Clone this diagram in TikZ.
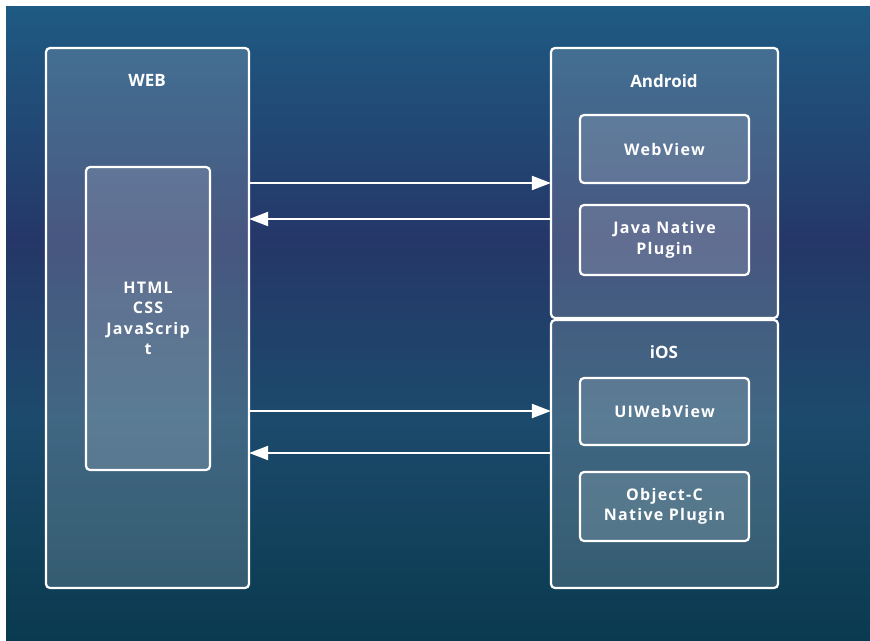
\documentclass[tikz,border=0pt]{standalone}
\usepackage{fontspec}
\setmainfont{Open Sans}
\newfontfamily\labfont{Open Sans}[LetterSpace=8]
\usetikzlibrary{arrows.meta}
\definecolor{bgtop}{HTML}{1E5A82}
\definecolor{bgmid}{HTML}{253768}
\definecolor{bgteal}{HTML}{1C4A6C}
\definecolor{bgbot}{HTML}{0A3A4F}
\pgfdeclareverticalshading{bgshade}{100bp}{color(0bp)=(bgbot); color(25bp)=(bgbot); color(42.5bp)=(bgteal); color(56.5bp)=(bgmid); color(75bp)=(bgtop); color(100bp)=(bgtop)}
\tikzset{
  panel/.style={draw=white, line width=2.2pt, rounded corners=4pt, fill=white, fill opacity=0.16, text opacity=1, inner sep=0pt},
  inbox/.style={draw=white, line width=2.2pt, rounded corners=4pt, fill=white, fill opacity=0.14, text opacity=1, text=white, align=center, inner sep=0pt, font=\labfont\bfseries\fontsize{16}{20.5}\selectfont},
  title/.style={text=white, font=\bfseries\fontsize{17}{20}\selectfont},
  arr/.style={draw=white, line width=2pt, -{Triangle[length=19pt,width=14pt]}, shorten >=-1pt}
}
\begin{document}
\begin{tikzpicture}[x=1pt,y=-1pt]
\useasboundingbox (0,0) rectangle (870,640);
\fill[white] (0,0) rectangle (870,640);
\shade[shading=bgshade] (6,6) rectangle (870,640);
% panels
\node[panel, minimum width=203pt, minimum height=540pt] (web) at (147.5,318) {};
\node[panel, minimum width=227pt, minimum height=270pt] (android) at (664.5,183) {};
\node[panel, minimum width=227pt, minimum height=268pt] (ios) at (664.5,454) {};
% titles
\node[title] (webt) at (147,80) {WEB};
\node[title] (andt) at (664,81) {Android};
\node[title] (iost) at (664,352) {iOS};
% inner boxes
\node[inbox, minimum width=124pt, minimum height=303pt] (html) at (148,318.5) {HTML\\CSS\\JavaScrip\\t};
\node[inbox, minimum width=169pt, minimum height=68pt] (wv) at (664.5,149) {WebView};
\node[inbox, minimum width=169pt, minimum height=70pt] (jnp) at (664.5,240) {Java Native\\Plugin};
\node[inbox, minimum width=169pt, minimum height=67pt] (uiwv) at (664.5,411.5) {UIWebView};
\node[inbox, minimum width=169pt, minimum height=69pt] (ocnp) at (664.5,506.5) {Object-C\\Native Plugin};
% arrow levels
\coordinate (l1) at (0,183);
\coordinate (l2) at (0,219);
\coordinate (l3) at (0,411);
\coordinate (l4) at (0,453);
\draw[arr] (web.east |- l1) -- (android.west |- l1);
\draw[arr] (android.west |- l2) -- (web.east |- l2);
\draw[arr] (web.east |- l3) -- (ios.west |- l3);
\draw[arr] (ios.west |- l4) -- (web.east |- l4);
\end{tikzpicture}
\end{document}
